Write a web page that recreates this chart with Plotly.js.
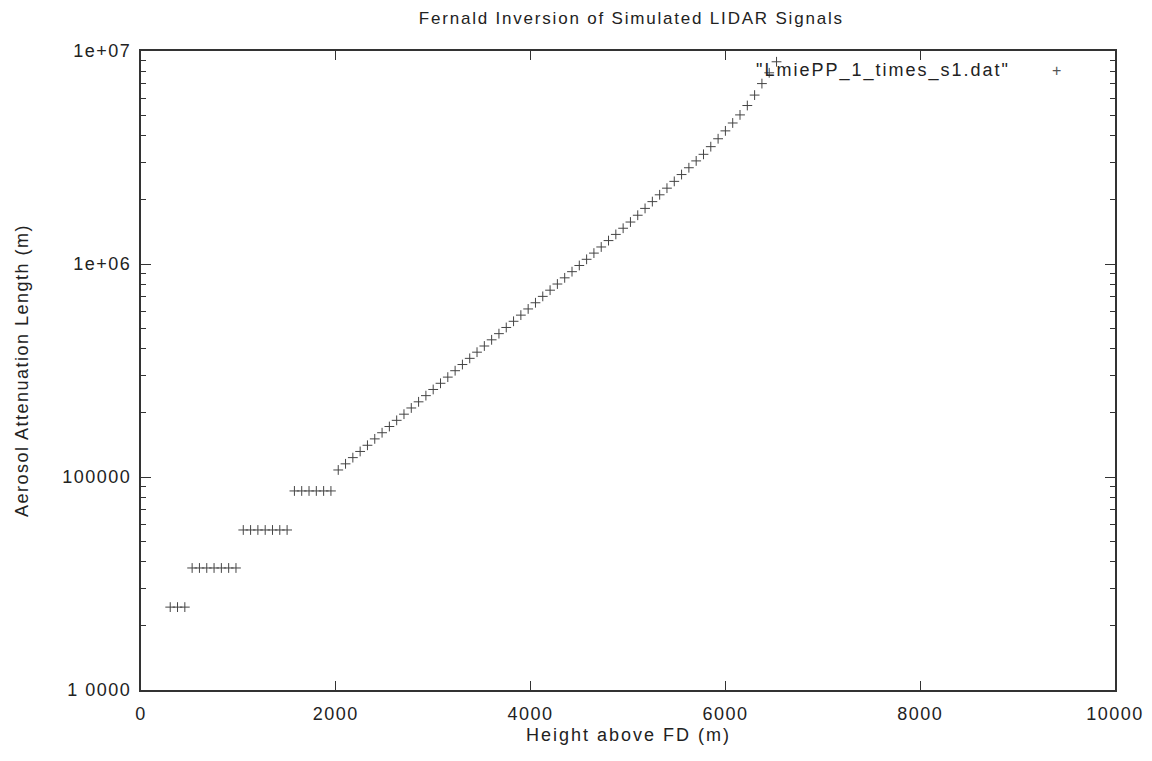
<!DOCTYPE html>
<html>
<head>
<meta charset="utf-8">
<script src="https://cdn.plot.ly/plotly-3.0.1.min.js"></script>
<style>
html,body{margin:0;padding:0;background:#fff;}
#chart{width:1152px;height:761px;}
#chart text.gtitle{letter-spacing:1.8px;}
#chart text.ytitle{letter-spacing:1.5px;}
#chart g.xtick text, #chart g.ytick text{letter-spacing:1.5px;}
#chart text.annotation-text{letter-spacing:2px;}
</style>
</head>
<body>
<div id="chart"></div>
<script>
// Height above FD (m)
const heights = [
  300, 375, 450,
  525, 600, 675, 750, 825, 900, 975,
  1050, 1125, 1200, 1275, 1350, 1425, 1500,
  1575, 1650, 1725, 1800, 1875, 1950,
  2025, 2100, 2175, 2250, 2325, 2400, 2475, 2550, 2625, 2700,
  2775, 2850, 2925, 3000, 3075, 3150, 3225, 3300, 3375, 3450,
  3525, 3600, 3675, 3750, 3825, 3900, 3975, 4050, 4125, 4200,
  4275, 4350, 4425, 4500, 4575, 4650, 4725, 4800, 4875, 4950,
  5025, 5100, 5175, 5250, 5325, 5400, 5475, 5550, 5625, 5700,
  5775, 5850, 5925, 6000, 6075, 6150, 6225, 6300, 6375, 6450, 6525
];
// Aerosol attenuation length (m)
const attenuation = [
  24500, 24500, 24500,
  37400, 37400, 37400, 37400, 37400, 37400, 37400,
  56400, 56400, 56400, 56400, 56400, 56400, 56400,
  86000, 86000, 86000, 86000, 86000, 86000,
  107900, 115300, 123300, 131800, 140900, 151000, 161400, 172600, 184500, 197200,
  210900, 225400, 241000, 257600, 275400, 294400, 315500, 337300, 360600, 385500,
  412100, 440600, 471000, 503500, 538300, 575400, 615200, 657700, 704700, 753400,
  805400, 861000, 920400, 984000, 1052000, 1125000, 1202000, 1288000, 1377000, 1472000,
  1574000, 1694000, 1824000, 1963000, 2113000, 2270000, 2443000, 2630000, 2831000, 3048000,
  3273000, 3556000, 3873000, 4217000, 4592000, 5012000, 5546000, 6209000, 7031000, 7900000, 8900000
];
const xTickVals = [0, 2000, 4000, 6000, 8000, 10000];
const xTickText = ["0", "2000", "4000", "6000", "8000", "10000"];
const yTickVals = [10000, 100000, 1000000, 10000000];
const yTickText = ["1 0000", "100000", "1e+06", "1e+07"];
const seriesName = '"LmiePP_1_times_s1.dat"';

const fontFam = '"Liberation Sans", Arial, sans-serif';
const axisColor = '#333';
const textColor = '#222';

const trace = {
  x: heights,
  y: attenuation,
  type: 'scatter',
  mode: 'markers',
  name: seriesName,
  showlegend: false,
  marker: {symbol: 'cross-thin-open', size: 7, color: '#444', line: {color: '#444', width: 1}},
  cliponaxis: true
};

const layout = {
  width: 1152, height: 761,
  margin: {l: 141, r: 37, t: 51, b: 71},
  paper_bgcolor: '#fff', plot_bgcolor: '#fff',
  font: {family: fontFam, size: 18, color: textColor},
  title: {text: 'Fernald Inversion of Simulated LIDAR Signals', font: {family: fontFam, size: 17, color: textColor},
          x: 0.548, xanchor: 'center', y: 0.976, yanchor: 'middle'},
  xaxis: {
    range: [0, 10000], showgrid: false, zeroline: false,
    showline: true, linecolor: axisColor, linewidth: 2, mirror: 'ticks',
    ticks: 'inside', ticklen: 9, tickcolor: axisColor, tickwidth: 1,
    tickvals: xTickVals, ticktext: xTickText,
    tickfont: {family: fontFam, size: 18, color: textColor},
    ticklabelstandoff: 6
  },
  yaxis: {
    type: 'log', range: [4, 7], showgrid: false, zeroline: false,
    showline: true, linecolor: axisColor, linewidth: 2, mirror: 'ticks',
    ticks: 'inside', ticklen: 10, tickcolor: axisColor, tickwidth: 1,
    tickvals: yTickVals, ticktext: yTickText,
    tickfont: {family: fontFam, size: 18, color: textColor},
    ticklabelstandoff: 4,
    minor: {ticks: 'inside', ticklen: 5, tickcolor: axisColor, dtick: 'D1', showgrid: false},
    title: {text: 'Aerosol Attenuation Length (m)', font: {family: fontFam, size: 18, color: textColor}, standoff: 38}
  },
  annotations: [
    {xref: 'paper', yref: 'paper', x: 0.5, y: -0.07, xanchor: 'center', yanchor: 'middle',
     text: 'Height above FD (m)', showarrow: false, font: {family: fontFam, size: 18, color: textColor}},
    {xref: 'paper', yref: 'paper', x: 0.871, y: 0.969, xanchor: 'right', yanchor: 'middle',
     text: seriesName, showarrow: false, font: {family: fontFam, size: 18, color: textColor}},
    {xref: 'paper', yref: 'paper', x: 0.941, y: 0.969, xanchor: 'center', yanchor: 'middle',
     text: '+', showarrow: false, font: {family: fontFam, size: 16, color: '#555'}}
  ]
};

Plotly.newPlot('chart', [trace], layout, {displayModeBar: false, staticPlot: true});
</script>
</body>
</html>
